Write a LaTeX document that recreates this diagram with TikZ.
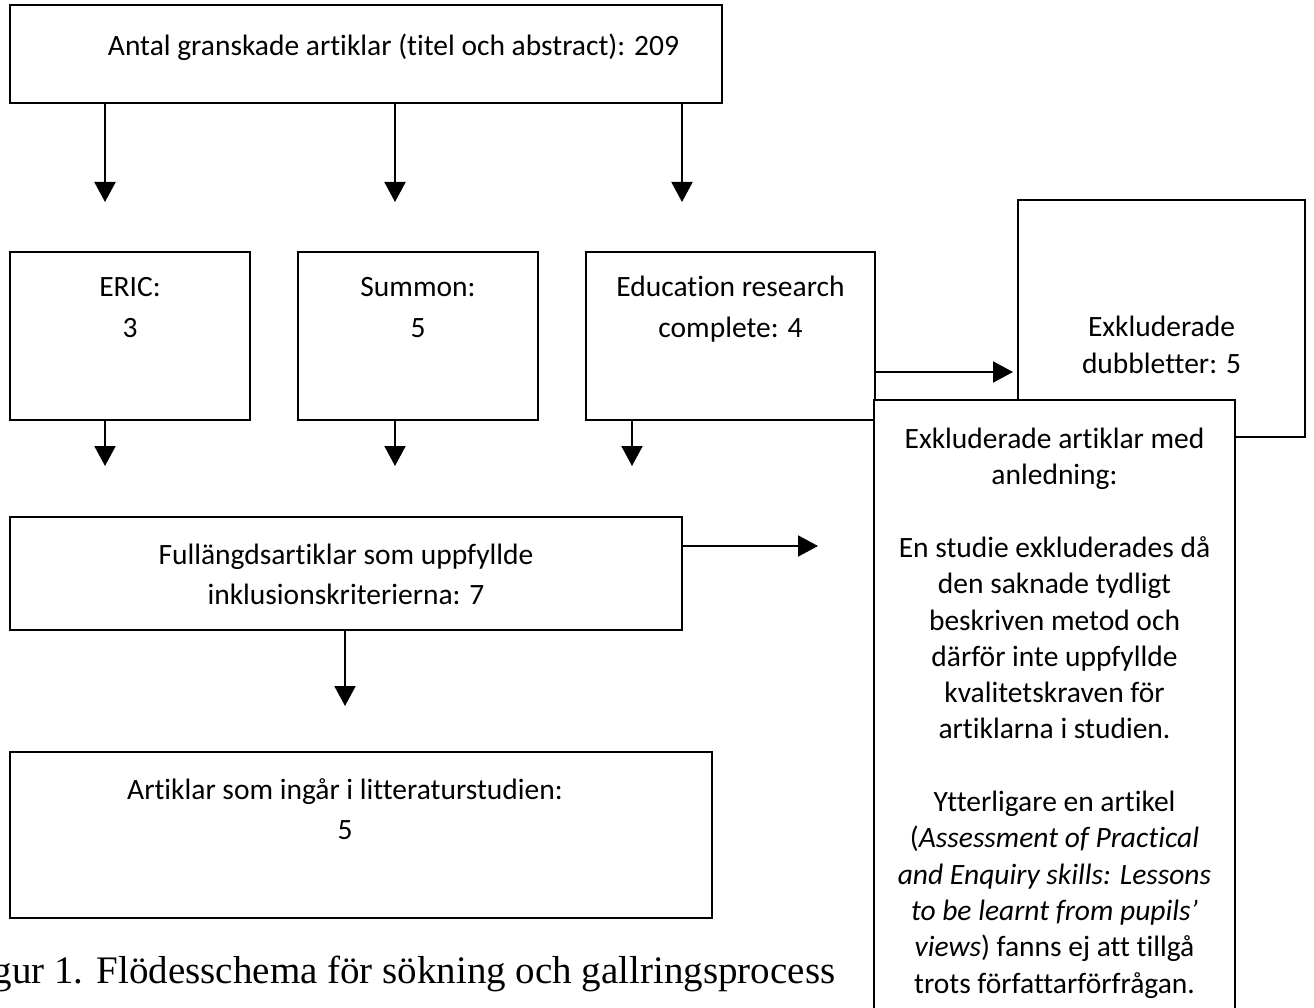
\documentclass[tikz,border=0pt]{standalone}
\usepackage{fontspec}
\setmainfont{Carlito}[Ligatures=NoCommon]
\newfontfamily\capfont{Liberation Serif}
\usetikzlibrary{arrows.meta}
\begin{document}
\begin{tikzpicture}[x=1pt,y=-1pt,
  box/.style={draw,line width=2pt,fill=white,rectangle,inner sep=0pt},
  txt/.style={anchor=base,align=center,inner sep=0pt,font=\fontsize{29.5}{40}\selectfont},
  arr/.style={line width=2pt,-{Triangle[length=20pt,width=21pt]}}]
\useasboundingbox (0,0) rectangle (1314,1008);
\clip (0,0) rectangle (1314,1008);
% boxes
\node[box,minimum width=712pt,minimum height=98pt] (top) at (366,54) {};
\node[box,minimum width=240pt,minimum height=168pt] (eric) at (130,336) {};
\node[box,minimum width=240pt,minimum height=168pt] (summon) at (418,336) {};
\node[box,minimum width=289pt,minimum height=168pt] (edu) at (730.5,336) {};
\node[box,minimum width=287pt,minimum height=237pt] (dub) at (1161.5,318.5) {};
\node[box,minimum width=672pt,minimum height=113pt] (full) at (346,573.5) {};
\node[box,minimum width=702pt,minimum height=166pt] (art) at (361,835) {};
\node[box,minimum width=361pt,minimum height=640pt] (excl) at (1054.5,720) {};
% texts
\node[txt] (ttop) at (393.5,56) {Antal granskade artiklar (titel och abstract): 209};
\node[txt] (teric) at (130,337) {ERIC:\\3};
\node[txt] (tsum) at (418,337) {Summon:\\5};
\node[txt] (tedu) at (730.5,337) {Education research\\complete: 4};
\node[txt,font=\fontsize{29.5}{37}\selectfont] (tdub) at (1161.5,373) {Exkluderade\\dubbletter: 5};
\node[txt] (tfull) at (346,604) {Fullängdsartiklar som uppfyllde\\inklusionskriterierna: 7};
\node[txt] (tart) at (345,839) {Artiklar som ingår i litteraturstudien:\\5};
\node[txt,font=\fontsize{29.5}{36.3}\selectfont] (texcl) at (1054.5,993) {Exkluderade artiklar med\\anledning:\\[36.3pt]En studie exkluderades då\\den saknade tydligt\\beskriven metod och\\därför inte uppfyllde\\kvalitetskraven för\\artiklarna i studien.\\[36.3pt]Ytterligare en artikel\\(\textit{Assessment of Practical}\\\textit{and Enquiry skills: Lessons}\\\textit{to be learnt from pupils’}\\\textit{views}) fanns ej att tillgå\\trots författarförfrågan.};
\node[anchor=base west,inner sep=0pt,font=\capfont\fontsize{39}{46}\selectfont] (cap) at (-40,983) {Figur 1. Flödesschema för sökning och gallringsprocess};
% arrow end coordinates
\coordinate (a1) at (105,202);
\coordinate (a2) at (395,202);
\coordinate (a3) at (682,202);
\coordinate (b1) at (105,466);
\coordinate (b2) at (395,466);
\coordinate (b3) at (632,466);
\coordinate (c1) at (818,546);
\coordinate (d1) at (345,706);
\coordinate (e1) at (1013,372);
% arrows
\draw[arr] (a1 |- top.south) -- (a1);
\draw[arr] (a2 |- top.south) -- (a2);
\draw[arr] (a3 |- top.south) -- (a3);
\draw[arr] (b1 |- eric.south) -- (b1);
\draw[arr] (b2 |- summon.south) -- (b2);
\draw[arr] (b3 |- edu.south) -- (b3);
\draw[arr] (c1 -| full.east) -- (c1);
\draw[arr] (d1 |- full.south) -- (d1);
\draw[arr] (e1 -| edu.east) -- (e1);
\end{tikzpicture}
\end{document}
